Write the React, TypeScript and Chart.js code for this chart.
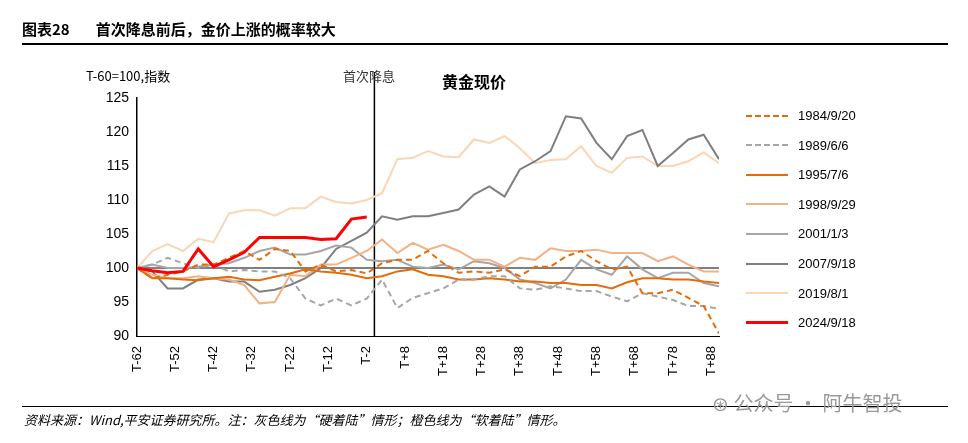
import React, { useRef, useEffect } from 'react';
import Chart from 'chart.js/auto';

// T offsets relative to first cut (every 4 trading days)
const days = [-62, -58, -54, -50, -46, -42, -38, -34, -30, -26, -22, -18, -14, -10, -6, -2,
  2, 6, 10, 14, 18, 22, 26, 30, 34, 38, 42, 46, 50, 54, 58, 62, 66, 70, 74, 78, 82, 86, 90];
const tickDays = [-62, -52, -42, -32, -22, -12, -2, 8, 18, 28, 38, 48, 58, 68, 78, 88];

const s1984 = [100, 98.5, 99, 99.5, 100.5, 100.5, 101.5, 102.5, 101.2, 102.8, 102.5, 99.5, 100.5, 99.5, 99.7, 99.2,
  100.7, 101.2, 101.2, 102.5, 100.7, 99.3, 99.5, 99.3, 99.8, 98.8, 100.2, 100.2, 101.7, 102.5, 101, 99.8, 100.2, 96.3, 96.3, 96.8, 95.6, 94.4, 90.4];
const s1989 = [100, 100.5, 101.5, 100.7, 100, 100.5, 99.5, 99.7, 99.5, 99.5, 98.5, 95.5, 94.5, 95.5, 94.5, 95.5,
  98.3, 94.1, 95.6, 96.3, 97, 98.3, 98.3, 98.8, 98.8, 97, 96.8, 97.3, 97, 96.6, 96.6, 95.8, 95.1, 96.3, 95.8, 95.3, 94.4, 94.4, 94];
const s1995 = [100, 98.5, 98.5, 98.3, 98.2, 98.5, 98.7, 98.3, 98.2, 98.7, 99.2, 99.8, 99.5, 99.3, 99, 98.5,
  98.8, 99.5, 99.8, 99, 98.8, 98.3, 98.3, 98.5, 98.3, 98, 98, 97.8, 97.8, 97.5, 97.5, 97, 97.9, 98.5, 98.5, 98.3, 98.3, 98, 97.8];
const s1998 = [100, 99, 98.5, 98.5, 98.8, 98.5, 98.3, 97.5, 94.8, 95, 99, 98.8, 100.5, 100.5, 101.5, 102.5,
  104.2, 102.2, 103.7, 102.7, 103.4, 102.5, 101.2, 101.2, 100.2, 101.5, 101.2, 102.9, 102.5, 102.5, 102.7, 102.2, 102.2, 102.2, 101, 101.7, 100.5, 99.5, 99.5];
const s2001 = [100, 100.5, 100, 100, 100.2, 100.5, 100.7, 101.5, 102.5, 103, 102, 102, 102.5, 103.3, 103, 101.2,
  101, 101.2, 100.2, 100, 100.5, 99.8, 101, 100.7, 100, 98.3, 97.8, 97, 98.3, 101.2, 99.8, 99, 101.7, 99.8, 98.5, 99.3, 99.3, 97.8, 97.3];
const s2007 = [100, 99.5, 97, 97, 98.3, 98.5, 98, 98, 96.5, 96.8, 97.5, 98.5, 100, 102.8, 104, 105.2,
  107.6, 107.1, 107.6, 107.6, 108.1, 108.6, 110.8, 112, 110.5, 114.5, 115.7, 117.2, 122.3, 122, 118.4, 116, 119.4, 120.3, 115, 116.9, 118.9, 119.6, 116];
const s2019 = [100, 102.5, 103.5, 102.5, 104.3, 103.8, 108, 108.5, 108.5, 107.7, 108.8, 108.8, 110.5, 109.7, 109.5, 110,
  111, 116, 116.2, 117.2, 116.4, 116.3, 118.9, 118.4, 119.4, 117.6, 115.4, 115.9, 116, 117.9, 115, 114, 116.2, 116.4, 115, 115, 115.7, 117, 115.4];
const s2024 = [100, 99.6, 99.3, 99.5, 102.8, 100.2, 101.2, 102.3, 104.5, 104.5, 104.5, 104.5, 104.2, 104.3, 107.2, 107.5];

const seriesNames = ['1984/9/20', '1989/6/6', '1995/7/6', '1998/9/29', '2001/1/3', '2007/9/18', '2019/8/1', '2024/9/18'];
const seriesData = [s1984, s1989, s1995, s1998, s2001, s2007, s2019, s2024];
const colors = ['#E46C0A', '#A6A6A6', '#E46C0A', '#F4B183', '#A6A6A6', '#7F7F7F', '#FBD5B5', '#FF0000'];
const dashed = [true, true, false, false, false, false, false, false];

const FONT = '"Liberation Sans", Arial, sans-serif';

const refLines = {
  id: 'refLines',
  beforeDatasetsDraw(chart) {
    const { ctx, scales: { x, y }, chartArea } = chart;
    ctx.save();
    ctx.strokeStyle = '#000';
    ctx.lineWidth = 1;
    const y100 = y.getPixelForValue(100);
    ctx.beginPath();
    ctx.moveTo(chartArea.left, y100);
    ctx.lineTo(chartArea.right, y100);
    ctx.stroke();
    ctx.lineWidth = 1.5;
    const x0 = x.getPixelForValue(0);
    ctx.beginPath();
    ctx.moveTo(x0, 72);
    ctx.lineTo(x0, chartArea.bottom);
    ctx.stroke();
    ctx.restore();
  },
};

function GoldChart() {
  const chartRef = useRef(null);
  const chartInstance = useRef(null);

  useEffect(() => {
    document.body.style.margin = '0';
    const ctx = chartRef.current.getContext('2d');
    if (chartInstance.current) chartInstance.current.destroy();
    chartInstance.current = new Chart(ctx, {
      type: 'line',
      data: {
        datasets: seriesNames.map((name, i) => ({
          label: name,
          data: seriesData[i].map((v, j) => ({ x: days[j], y: v })),
          borderColor: colors[i],
          borderWidth: i === 7 ? 3 : 2,
          borderDash: dashed[i] ? [6, 4] : [],
          pointRadius: 0,
          tension: 0,
          order: i === 7 ? 0 : 1,
        })),
      },
      options: {
        animation: false,
        responsive: false,
        layout: { padding: { left: 85, right: 249, top: 98, bottom: 62 } },
        plugins: { legend: { display: false }, tooltip: { enabled: false } },
        scales: {
          x: {
            type: 'linear',
            min: -62,
            max: 90,
            afterFit: (s) => { s.height = 45; },
            afterBuildTicks: (s) => { s.ticks = tickDays.map((v) => ({ value: v })); },
            grid: { display: false, drawTicks: true, tickLength: 7, tickColor: '#000' },
            border: { color: '#000', width: 1 },
            ticks: {
              minRotation: 90,
              maxRotation: 90,
              color: '#000',
              font: { family: FONT, size: 13 },
              callback: (v) => 'T' + (v >= 0 ? '+' : '') + v,
            },
          },
          y: {
            min: 90,
            max: 125,
            afterFit: (s) => { s.width = 52; },
            grid: { display: false, drawTicks: true, tickLength: 5, tickColor: '#000' },
            border: { color: '#000', width: 1.5 },
            ticks: { stepSize: 5, color: '#000', font: { family: FONT, size: 14 } },
          },
        },
      },
      plugins: [refLines],
    });
    return () => {
      if (chartInstance.current) chartInstance.current.destroy();
    };
  }, []);

  return <canvas ref={chartRef} width="968" height="443" style={{ position: 'absolute', left: 0, top: 0 }} />;
}

export default function App() {
  const abs = (l, t, extra = {}) => ({ position: 'absolute', left: l, top: t, whiteSpace: 'nowrap', ...extra });
  return (
    <div style={{ position: 'relative', width: 968, height: 443, fontFamily: FONT, background: '#fff', overflow: 'hidden' }}>
      <GoldChart />
      <div style={abs(22, 18, { fontSize: 15, fontWeight: 'bold', fontFamily: '"Noto Sans CJK SC", sans-serif' })}>
        图表28<span style={{ marginLeft: 26 }}>首次降息前后，金价上涨的概率较大</span>
      </div>
      <div style={abs(22, 43, { width: 926, borderTop: '2px solid #000' })} />
      <div style={abs(86, 66, { fontSize: 13, fontFamily: '"Noto Sans CJK SC", sans-serif' })}>T-60=100,指数</div>
      <div style={abs(343, 66, { fontSize: 13, fontFamily: '"Noto Sans CJK SC", sans-serif', color: '#333' })}>首次降息</div>
      <div style={abs(442, 69, { fontSize: 16, fontWeight: 'bold', fontFamily: '"Noto Sans CJK SC", sans-serif' })}>黄金现价</div>
      {seriesNames.map((n, i) => (
        <div key={n} style={abs(746, 108 + i * 29.6, { display: 'flex', alignItems: 'center', fontSize: 13 })}>
          <span style={{ width: 42, height: 0, borderTop: `${i === 7 ? 3 : 2}px ${dashed[i] ? 'dashed' : 'solid'} ${colors[i]}`, marginRight: 10 }} />
          {n}
        </div>
      ))}
      <div style={abs(22, 406, { width: 926, borderTop: '1px solid #000' })} />
      <div style={abs(24, 410, { fontSize: 13, fontStyle: 'italic', fontFamily: '"Noto Sans CJK SC", sans-serif' })}>
        资料来源：Wind,平安证券研究所。注：灰色线为“硬着陆”情形；橙色线为“软着陆”情形。
      </div>
      <div style={abs(712, 388, { fontSize: 20, color: '#999', fontFamily: '"Noto Sans CJK SC", sans-serif' })}>
        ⊛ 公众号 · 阿牛智投
      </div>
    </div>
  );
}
